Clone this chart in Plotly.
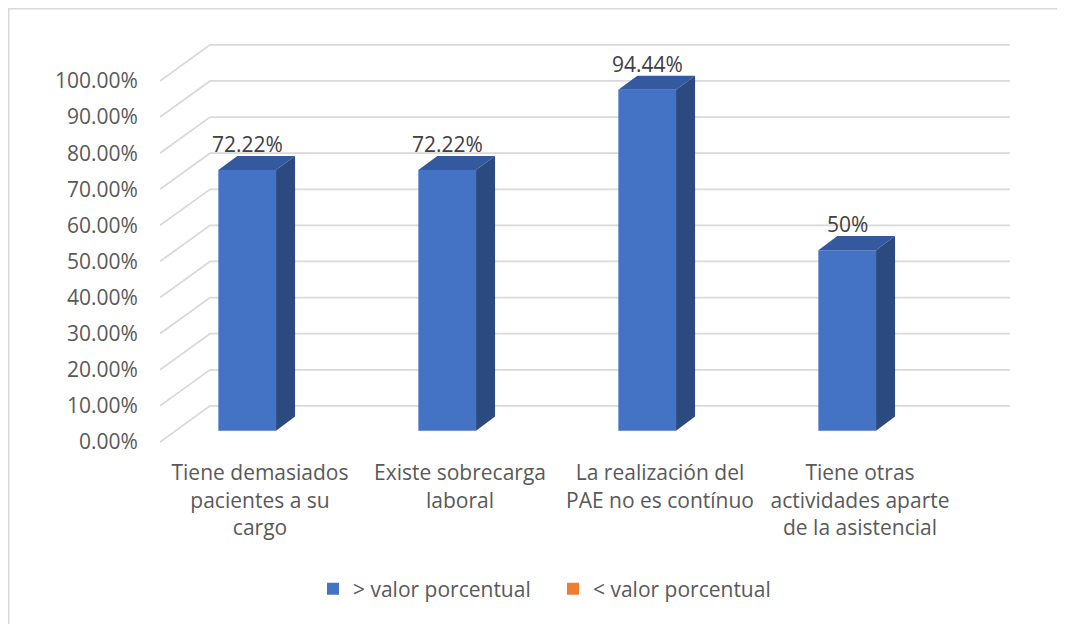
import plotly.graph_objects as go

# ---- data ----
categorias = [
    "Tiene demasiados<br>pacientes a su<br>cargo",
    "Existe sobrecarga<br>laboral",
    "La realización del<br>PAE no es contínuo",
    "Tiene otras<br>actividades aparte<br>de la asistencial",
]
mayor_valor = [72.22, 72.22, 94.44, 50.0]
etiquetas = ["72.22%", "72.22%", "94.44%", "50%"]
menor_valor = [None, None, None, None]
ticks_y = [0, 10, 20, 30, 40, 50, 60, 70, 80, 90, 100]
ticks_y_txt = ["0.00%", "10.00%", "20.00%", "30.00%", "40.00%", "50.00%",
               "60.00%", "70.00%", "80.00%", "90.00%", "100.00%"]

# ---- 3D look constants (data units) ----
WALL_DX, WALL_DY = 0.25, 10.0      # depth of the chart box
BAR_SHIFT = -0.064                  # bar front face offset from category
BAR_W = 0.2885
BAR_BASE = 3.13
BAR_DX, BAR_DY = 0.095, 3.9         # depth of each bar

FONT = "Open Sans"
GREY = "#595959"
GRID = "#D9D9D9"
BLUE = "#4472C4"
TOP = "#34599E"
SIDE = "#2B4A7F"
ORANGE = "#ED7D31"

xs = [i + BAR_SHIFT for i in range(len(categorias))]

fig = go.Figure()
fig.add_trace(go.Bar(
    x=xs, y=mayor_valor, base=[BAR_BASE] * len(xs), width=BAR_W,
    name="> valor porcentual", marker=dict(color=BLUE, line=dict(width=0)),
    hoverinfo="skip",
))
fig.add_trace(go.Bar(
    x=xs, y=menor_valor, width=BAR_W, name="< valor porcentual",
    marker=dict(color=ORANGE, line=dict(width=0)), hoverinfo="skip",
))

shapes = []
# oblique gridlines (left wall + back wall)
x0 = -0.5
x_end = len(categorias) - 0.5 + WALL_DX
for v in ticks_y:
    shapes.append(dict(
        type="path", xref="x", yref="y", layer="below",
        path=f"M {x0},{v} L {x0 + WALL_DX},{v + WALL_DY} L {x_end},{v + WALL_DY}",
        line=dict(color=GRID, width=1.75),
    ))

# bar top and side faces
for x, v in zip(xs, mayor_valor):
    xl, xr = x - BAR_W / 2, x + BAR_W / 2
    top = BAR_BASE + v
    shapes.append(dict(
        type="path", xref="x", yref="y", layer="above",
        path=(f"M {xl},{top} L {xr},{top} L {xr + BAR_DX},{top + BAR_DY} "
              f"L {xl + BAR_DX},{top + BAR_DY} Z"),
        fillcolor=TOP, line=dict(width=0),
    ))
    shapes.append(dict(
        type="path", xref="x", yref="y", layer="above",
        path=(f"M {xr},{BAR_BASE} L {xr},{top} L {xr + BAR_DX},{top + BAR_DY} "
              f"L {xr + BAR_DX},{BAR_BASE + BAR_DY} Z"),
        fillcolor=SIDE, line=dict(width=0),
    ))

# page layout (the page body adds an 8px offset)
W, H = 1065, 624
OFF = 8
ML, MT = 160 - OFF, 38 - OFF
MR = W - (1012 - OFF)
MB = H - (449 - OFF)
pw, ph = W - ML - MR, H - MT - MB


def px_to_paper_x(px):
    return (px - ML) / pw


def px_to_paper_y(py):
    return (H - MB - py) / ph


# chart outer border (light grey frame)
shapes.append(dict(
    type="rect", xref="paper", yref="paper", layer="below",
    x0=px_to_paper_x(0.75), x1=px_to_paper_x(W + 20),
    y0=px_to_paper_y(H + 20), y1=px_to_paper_y(0.75),
    line=dict(color=GRID, width=1.5), fillcolor="rgba(0,0,0,0)",
))

annotations = []
for x, v, t in zip(xs, mayor_valor, etiquetas):
    annotations.append(dict(
        x=x, y=BAR_BASE + v + BAR_DY, xref="x", yref="y",
        text=t, showarrow=False, yanchor="bottom", xanchor="center",
        yshift=-4, font=dict(family=FONT, size=21, color="#404040"),
    ))

fig.update_layout(
    width=W, height=H,
    margin=dict(l=ML, r=MR, t=MT, b=MB, pad=0),
    paper_bgcolor="white", plot_bgcolor="white",
    barmode="overlay",
    font=dict(family=FONT, size=21, color=GREY),
    shapes=shapes, annotations=annotations,
    showlegend=True,
    legend=dict(
        orientation="h", xref="container", yref="container",
        x=(553 - OFF) / W, y=1 - (589 - OFF) / H,
        xanchor="center", yanchor="middle",
        entrywidth=195, entrywidthmode="pixels",
        font=dict(family=FONT, size=21, color=GREY),
        bgcolor="rgba(0,0,0,0)",
    ),
    xaxis=dict(
        range=[-0.5, len(categorias) - 0.5 + 0.26],
        tickmode="array", tickvals=list(range(len(categorias))),
        ticktext=categorias, showgrid=False, zeroline=False, showline=False,
        ticks="outside", ticklen=5, tickcolor="rgba(0,0,0,0)",
        tickfont=dict(family=FONT, size=21, color=GREY),
        fixedrange=True,
    ),
    yaxis=dict(
        range=[-1.94, 111.9],
        tickmode="array", tickvals=ticks_y, ticktext=ticks_y_txt,
        showgrid=False, zeroline=False, showline=False,
        ticks="outside", ticklen=17, tickcolor="rgba(0,0,0,0)",
        tickfont=dict(family=FONT, size=21, color=GREY),
        fixedrange=True,
    ),
)

fig.write_html("out.html")
